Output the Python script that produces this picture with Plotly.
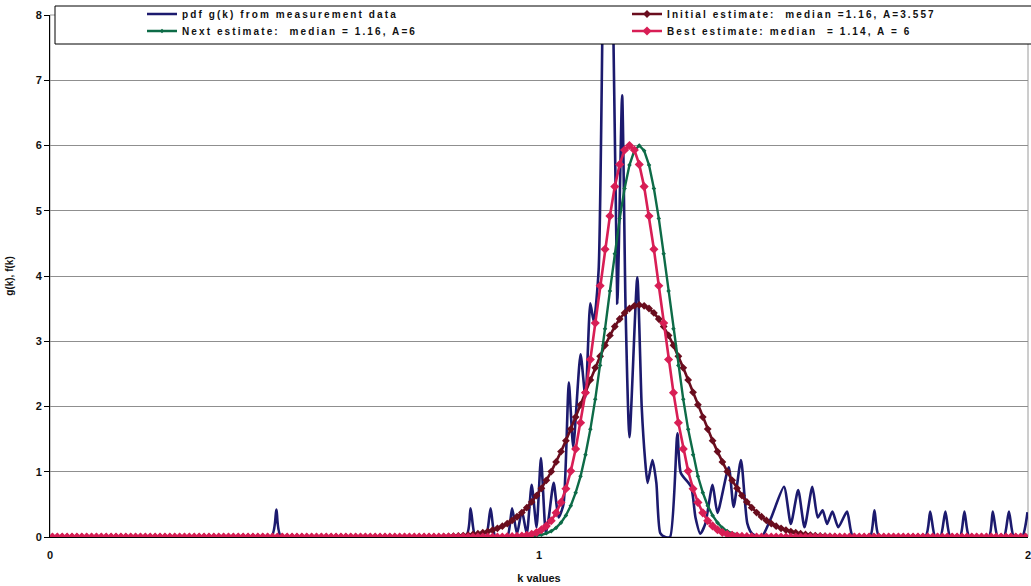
import plotly.graph_objects as go

# k bins (centres of 0.01-wide bins between 0 and 2)
K_BINS = [round(0.005 + 0.01 * i, 3) for i in range(200)]

# measured pdf g(k): vertices (k, g)
PDF_K = [0.000, 0.452, 0.463, 0.473, 0.850, 0.860, 0.870, 0.891, 0.901, 0.911,
         0.935, 0.945, 0.955, 0.965, 0.975, 0.985, 0.995, 1.004, 1.014, 1.020,
         1.030, 1.040, 1.050, 1.061, 1.070, 1.085, 1.095, 1.105, 1.112, 1.122,
         1.140, 1.160, 1.170, 1.177, 1.185, 1.201, 1.210, 1.217, 1.222,
         1.232, 1.240, 1.248, 1.258, 1.268, 1.283, 1.290, 1.311, 1.320, 1.330,
         1.340, 1.355, 1.365, 1.388, 1.398, 1.413, 1.426, 1.436, 1.455, 1.475,
         1.501, 1.515, 1.530, 1.543, 1.559, 1.570, 1.580, 1.589, 1.600, 1.612,
         1.630, 1.642, 1.677, 1.686, 1.696, 1.790, 1.800, 1.810, 1.821, 1.831,
         1.841, 1.861, 1.870, 1.880, 1.920, 1.928, 1.938, 1.951, 1.961, 1.971,
         1.988, 1.999]
PDF_G = [0.00, 0.00, 0.42, 0.00, 0.00, 0.44, 0.00, 0.00, 0.44, 0.00,
         0.00, 0.44, 0.05, 0.40, 0.05, 0.80, 0.15, 1.21, 0.05, 0.30,
         0.83, 0.30, 0.50, 2.37, 1.38, 2.80, 2.14, 3.58, 3.30, 4.10,
         14.0, 3.58, 6.77, 3.52, 1.53, 3.98, 2.00, 1.18, 0.83,
         1.18, 0.83, 0.06, 0.00, 0.00, 1.59, 0.98, 0.77, 0.30, 0.05,
         0.20, 0.80, 0.37, 1.07, 0.46, 1.18, 0.21, 0.05, 0.00, 0.30,
         0.77, 0.20, 0.72, 0.15, 0.77, 0.30, 0.41, 0.20, 0.39, 0.15,
         0.39, 0.00, 0.00, 0.41, 0.00, 0.00, 0.39, 0.00, 0.00, 0.39,
         0.00, 0.00, 0.39, 0.00, 0.00, 0.39, 0.00, 0.00, 0.39, 0.00,
         0.00, 0.38]

# fitted f(k) curves: non-zero stretch, starting bin k, values per bin
INITIAL_START = 0.805
INITIAL_F = [0.007, 0.009, 0.012, 0.017, 0.022, 0.030, 0.039, 0.051, 0.065, 0.083,
             0.106, 0.133, 0.166, 0.206, 0.254, 0.310, 0.375, 0.450, 0.537, 0.635,
             0.746, 0.868, 1.003, 1.150, 1.309, 1.477, 1.654, 1.838, 2.027, 2.217,
             2.407, 2.592, 2.770, 2.937, 3.090, 3.226, 3.341, 3.434, 3.502, 3.543,
             3.557,
             3.543, 3.502, 3.434, 3.341, 3.226, 3.090, 2.937, 2.770, 2.592, 2.407,
             2.217, 2.027, 1.838, 1.654, 1.477, 1.309, 1.150, 1.003, 0.868, 0.746,
             0.635, 0.537, 0.450, 0.375, 0.310, 0.254, 0.206, 0.166, 0.133, 0.106,
             0.083, 0.065, 0.051, 0.039, 0.030, 0.022, 0.017, 0.012, 0.009, 0.007]

NEXT_START = 0.955
NEXT_F = [0.002, 0.003, 0.006, 0.012, 0.020, 0.034, 0.057, 0.09, 0.14, 0.22,
          0.33, 0.48, 0.68, 0.93, 1.26, 1.65, 2.11, 2.63, 3.19, 3.77,
          4.34, 4.88, 5.34, 5.70, 5.92, 6.00, 5.92, 5.70, 5.34, 4.88,
          4.34, 3.77, 3.19, 2.63, 2.11, 1.65, 1.26, 0.93, 0.68, 0.48,
          0.33, 0.22, 0.14, 0.09, 0.057, 0.034, 0.020, 0.012, 0.006, 0.003,
          0.002]

BEST_START = 0.935
BEST_F = [0.003, 0.005, 0.009, 0.015, 0.026, 0.043, 0.07, 0.11, 0.17, 0.25,
          0.37, 0.53, 0.74, 1.01, 1.35, 1.75, 2.21, 2.72, 3.28, 3.85,
          4.41, 4.92, 5.37, 5.71, 5.93, 6.00, 5.93, 5.71, 5.37, 4.92,
          4.41, 3.85, 3.28, 2.72, 2.21, 1.75, 1.35, 1.01, 0.74, 0.53,
          0.37, 0.25, 0.17, 0.11, 0.07, 0.043, 0.026, 0.015, 0.009, 0.005,
          0.003]

NAMES = ["pdf g(k) from measurement data",
         "Initial estimate:\u00a0 median =1.16, A=3.557",
         "Next estimate:\u00a0 median = 1.16, A=6",
         "Best estimate: median\u00a0 = 1.14, A = 6"]
COLORS = ["#1c1a6e", "#6a0d1e", "#0d6b47", "#d81e55"]
Y_TICKS = [0, 1, 2, 3, 4, 5, 6, 7, 8]
X_TICKS = [0, 1, 2]


def on_bins(start_k, values):
    """Place a stretch of per-bin values on the full bin axis (0 outside)."""
    first = K_BINS.index(start_k)
    out = [0.0] * len(K_BINS)
    out[first:first + len(values)] = values
    return out


def spaced(text):
    return '<span style="letter-spacing:2.1px">' + text + "</span>"


TXT = dict(family="Liberation Sans", size=10, color="#111111", weight="bold")
AX_FONT = dict(family="Liberation Sans", size=11, color="#111111", weight="bold")

fig = go.Figure()
fig.add_trace(go.Scatter(x=PDF_K, y=PDF_G, mode="lines", name=spaced(NAMES[0]),
                         line=dict(color=COLORS[0], width=2.6, shape="spline", smoothing=0.6),
                         legend="legend"))
fig.add_trace(go.Scatter(x=K_BINS, y=on_bins(INITIAL_START, INITIAL_F), mode="lines+markers",
                         name=spaced(NAMES[1]), line=dict(color=COLORS[1], width=2.6),
                         marker=dict(symbol="diamond", size=6, color=COLORS[1]),
                         legend="legend2"))
fig.add_trace(go.Scatter(x=K_BINS, y=on_bins(NEXT_START, NEXT_F), mode="lines+markers",
                         name=spaced(NAMES[2]), line=dict(color=COLORS[2], width=2.4),
                         marker=dict(symbol="diamond", size=3.5, color=COLORS[2]),
                         legend="legend3"))
fig.add_trace(go.Scatter(x=K_BINS, y=on_bins(BEST_START, BEST_F), mode="lines+markers",
                         name=spaced(NAMES[3]), line=dict(color=COLORS[3], width=2.6),
                         marker=dict(symbol="diamond", size=7, color=COLORS[3]),
                         legend="legend4"))

W, H = 1031, 586
ML, MR, MT, MB = 50, 3, 15, 49
PW, PH = W - ML - MR, H - MT - MB


def px_x(p):
    return (p - ML) / PW


def px_y(p):
    return (H - MB - p) / PH


def legend_at(xp, yp):
    return dict(x=px_x(xp), y=px_y(yp), xanchor="left", yanchor="middle",
                bgcolor="rgba(0,0,0,0)", borderwidth=0, font=TXT,
                orientation="v", itemclick=False, itemdoubleclick=False)


fig.update_layout(
    width=W, height=H,
    margin=dict(l=ML, r=MR, t=MT, b=MB, autoexpand=False),
    paper_bgcolor="white", plot_bgcolor="white",
    showlegend=True,
    legend=legend_at(142, 14),
    legend2=legend_at(627, 14),
    legend3=legend_at(142, 31),
    legend4=legend_at(627, 31),
    xaxis=dict(range=[0, 2], tickvals=X_TICKS, ticktext=[str(v) for v in X_TICKS],
               showgrid=False, zeroline=False, showline=True, linecolor="black",
               linewidth=1, ticks="", ticklabelstandoff=8, tickfont=AX_FONT,
               ticklabeloverflow="allow",
               title=dict(text="k values", font=AX_FONT, standoff=14)),
    yaxis=dict(range=[0, 8], tickvals=Y_TICKS, showgrid=True, gridcolor="#8f8f8f",
               gridwidth=1, zeroline=False, showline=True, linecolor="black",
               linewidth=1, ticks="outside", ticklen=5, tickcolor="black",
               tickfont=AX_FONT,
               title=dict(text="g(k), f(k)", font=dict(AX_FONT, size=10), standoff=20)),
    shapes=[
        # plot-area frame
        dict(type="rect", xref="paper", yref="paper", x0=0, x1=1, y0=0, y1=1,
             line=dict(color="#9a9a9a", width=1), layer="below"),
        # legend box
        dict(type="rect", xref="paper", yref="paper",
             x0=px_x(55), x1=px_x(1040), y0=px_y(44), y1=px_y(6),
             fillcolor="white", line=dict(color="black", width=1), layer="above"),
    ],
)

fig.write_html("out.html")
